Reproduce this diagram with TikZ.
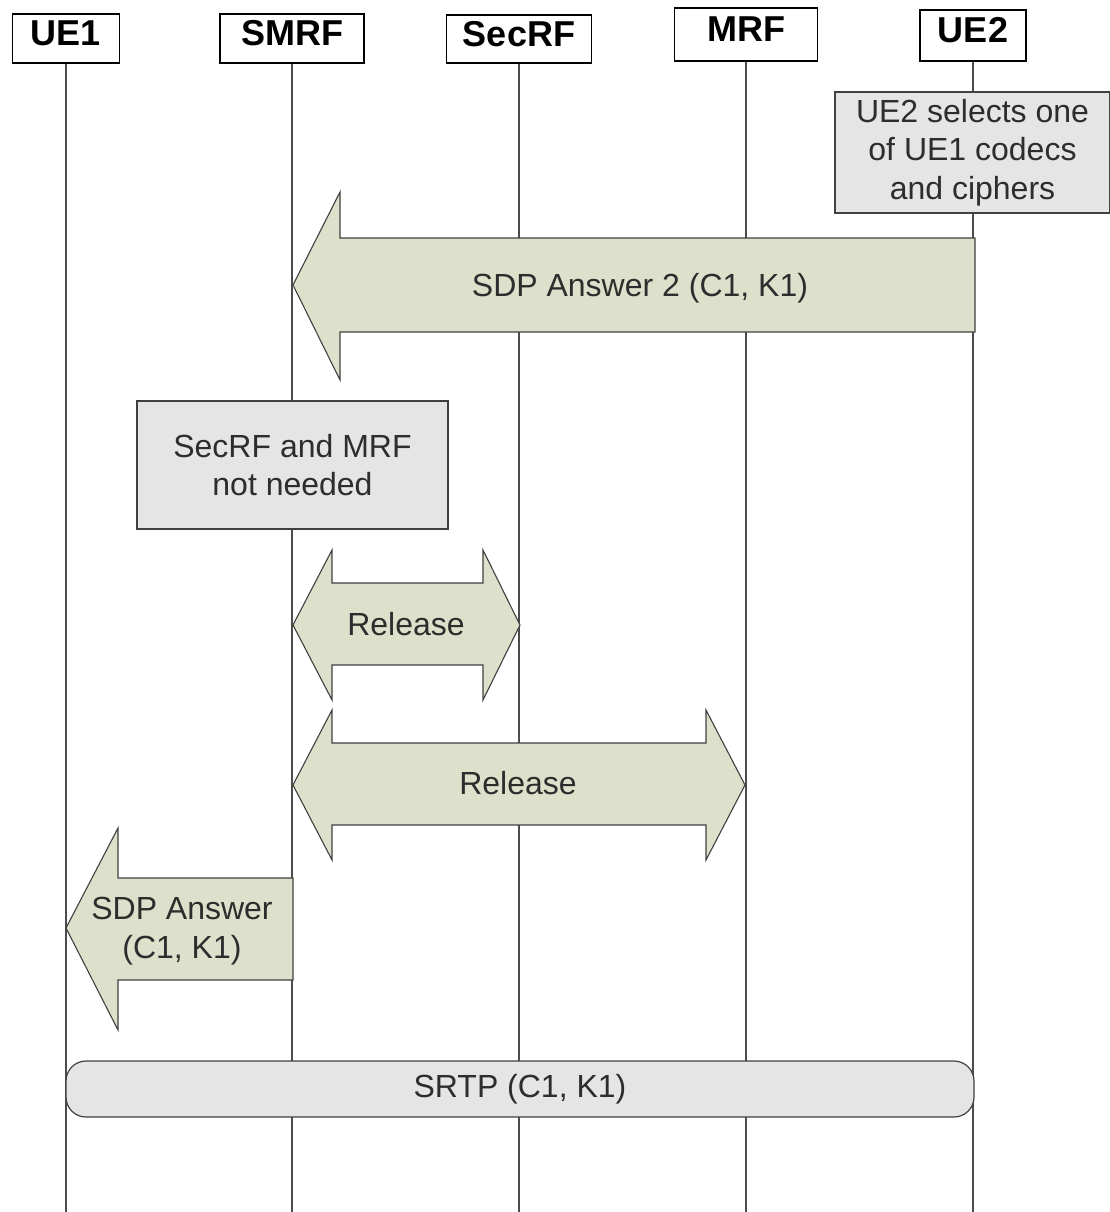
\documentclass[tikz,border=0pt]{standalone}
\usepackage{fontspec}
\setmainfont{Liberation Sans}
\definecolor{arrowfill}{RGB}{221,225,203}
\definecolor{notefill}{RGB}{229,229,229}
\definecolor{txtgray}{RGB}{45,45,45}
\begin{document}
\begin{tikzpicture}[x=1pt, y=-1pt,
    head/.style={draw, line width=1.6pt, fill=white, inner sep=0pt, text height=21pt, text depth=6pt, font=\fontsize{36}{40}\selectfont\bfseries},
    note/.style={draw=black!75, line width=1.2pt, fill=notefill, inner sep=0pt, align=center, text=txtgray, font=\fontsize{32}{38.5}\selectfont},
    blockarrow/.style={draw=black!75, line width=1.1pt, fill=arrowfill, line join=miter},
    msg/.style={text=txtgray, align=center, font=\fontsize{32}{38.5}\selectfont},
    lifeline/.style={draw=black!70, line width=1.3pt}]
    \useasboundingbox (0,0) rectangle (1110,1212);
    % participants
    \node[head, minimum width=107pt, minimum height=49pt] (ue1) at (66,38.5) {UE1};
    \node[head, minimum width=144pt, minimum height=49pt] (smrf) at (292,38.5) {SMRF};
    \node[head, minimum width=145pt, minimum height=48pt] (secrf) at (519,39) {SecRF};
    \node[head, minimum width=143pt, minimum height=53pt] (mrf) at (746,34.5) {MRF};
    \node[head, minimum width=106pt, minimum height=51pt] (ue2) at (973,35.5) {UE2};
    \coordinate (bottom) at (0,1212);
    \foreach \p in {ue1, smrf, secrf, mrf, ue2}
        \draw[lifeline] (\p.south) -- (\p |- bottom);

    \node[note, minimum width=275pt, minimum height=121pt] (select) at (972.5,152.5) {UE2 selects one\\of UE1 codecs\\and ciphers};

    % SDP answer from UE2 back to SMRF
    \draw[blockarrow] (975,238) -- (340,238) -- (340,192) -- (293,285) -- (340,380) -- (340,332) -- (975,332) -- cycle;
    \node[msg] (answer2) at (640,288) {SDP Answer 2 (C1, K1)};

    \node[note, minimum width=311pt, minimum height=128pt] (notneeded) at (292.5,465) {SecRF and MRF\\not needed};

    % release of the secure and media functions
    \draw[blockarrow] (293,625) -- (332,550) -- (332,583) -- (483,583) -- (483,550) -- (520,625)
        -- (483,700) -- (483,665) -- (332,665) -- (332,700) -- cycle;
    \node[msg] (release1) at (406,624) {Release};
    \draw[blockarrow] (293,785) -- (332,710) -- (332,743) -- (706,743) -- (706,710) -- (745,785)
        -- (706,860) -- (706,825) -- (332,825) -- (332,860) -- cycle;
    \node[msg] (release2) at (518,783) {Release};

    % answer to UE1
    \draw[blockarrow] (293,878) -- (118,878) -- (118,828) -- (66,928) -- (118,1030) -- (118,980) -- (293,980) -- cycle;
    \node[msg] (answer1) at (182,931) {SDP Answer\\(C1, K1)};

    \node[note, rounded corners=20pt, minimum width=908pt, minimum height=56pt] (srtp) at (520,1089) {SRTP (C1, K1)};
\end{tikzpicture}
\end{document}
